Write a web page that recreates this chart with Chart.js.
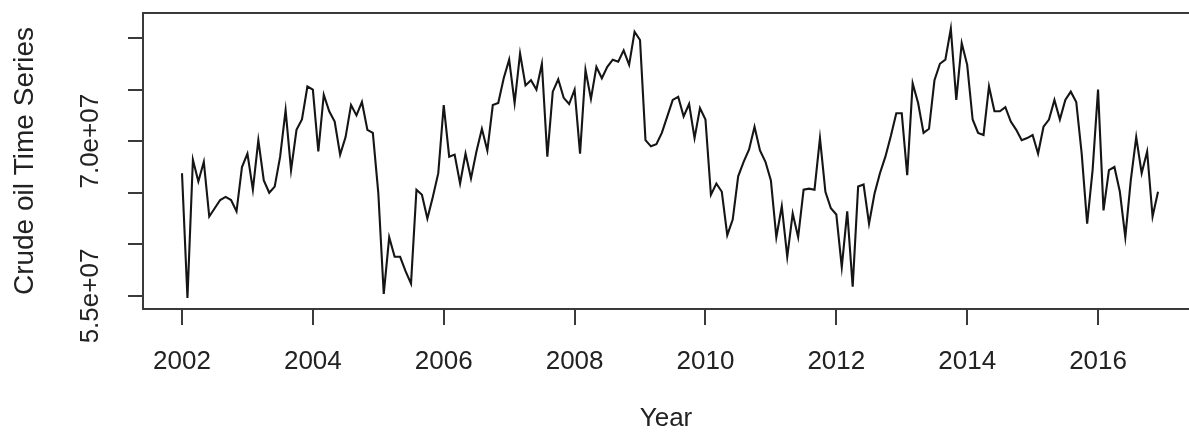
<!DOCTYPE html>
<html>
<head>
<meta charset="utf-8">
<title>Crude oil Time Series</title>
<script src="https://cdn.jsdelivr.net/npm/chart.js@4/dist/chart.umd.min.js"></script>
<style>
  html, body { margin: 0; padding: 0; background: #ffffff; overflow: hidden; }
  #wrap { width: 1189px; height: 438px; }
</style>
</head>
<body>
<div id="wrap"><canvas id="chart" width="1189" height="438"></canvas></div>
<script>
// Monthly crude oil series, Jan 2002 - Dec 2016 (values in millions)
const startYear = 2002;
const crudeOilMillions = [
  66.9, 54.8, 68.2, 66.1, 68.0, 62.7, 63.5, 64.3, 64.6, 64.3, 63.2, 67.5, // 2002
  68.8, 65.3, 70.1, 66.2, 65.0, 65.6, 68.5, 73.0, 67.2, 71.1, 72.1, 75.3, // 2003
  75.0, 69.0, 74.5, 72.9, 71.9, 68.7, 70.4, 73.5, 72.5, 73.8, 71.1, 70.8, // 2004
  65.0, 55.2, 60.7, 58.8, 58.8, 57.4, 56.2, 65.3, 64.8, 62.5, 64.6, 66.9, // 2005
  73.5, 68.5, 68.7, 65.9, 68.8, 66.4, 69.0, 71.2, 69.1, 73.5, 73.7, 76.1, // 2006
  77.9, 73.7, 78.5, 75.4, 75.9, 75.0, 77.5, 68.5, 74.8, 76.0, 74.2, 73.6, // 2007
  75.0, 68.8, 76.9, 74.1, 77.2, 76.1, 77.2, 77.9, 77.7, 78.8, 77.4, 80.6, // 2008
  79.8, 70.1, 69.5, 69.7, 70.8, 72.4, 74.0, 74.3, 72.4, 73.6, 70.3, 73.2, // 2009
  72.1, 64.8, 65.9, 65.1, 60.9, 62.4, 66.6, 68.0, 69.2, 71.4, 69.1, 68.0, // 2010
  66.2, 60.7, 63.7, 58.8, 63.0, 60.7, 65.3, 65.4, 65.3, 70.3, 65.1, 63.5, // 2011
  62.9, 57.8, 63.2, 55.9, 65.6, 65.8, 62.0, 64.9, 66.9, 68.5, 70.5, 72.7, // 2012
  72.7, 66.7, 75.6, 73.7, 70.8, 71.2, 75.9, 77.5, 77.9, 80.9, 74.0, 79.5, // 2013
  77.4, 72.1, 70.8, 70.6, 75.3, 72.9, 72.9, 73.3, 71.9, 71.1, 70.1, 70.3, // 2014
  70.6, 68.8, 71.4, 72.1, 74.0, 72.1, 74.0, 74.8, 73.8, 68.8, 62.0, 67.2, // 2015
  75.0, 63.3, 67.2, 67.5, 65.1, 60.7, 66.2, 70.4, 66.9, 69.0, 62.7, 65.1  // 2016
];

// Axis ticks
const xTickYears = [2002, 2004, 2006, 2008, 2010, 2012, 2014, 2016];
const yTickValues = [55e6, 60e6, 65e6, 70e6, 75e6, 80e6];
const yTickLabels = ['5.5e+07', '', '', '7.0e+07', '', ''];

// Plot ranges (R-style 4% extension around the data)
const xMin = 2001.404, xMax = 2017.39;
const yMin = 5.374e7, yMax = 8.242e7;

const points = crudeOilMillions.map((v, i) => ({ x: startYear + i / 12, y: v * 1e6 }));

const FONT = '"Liberation Sans", Arial, Helvetica, sans-serif';
const INK = '#222222';
const FRAME = '#3a3a3a';

new Chart(document.getElementById('chart'), {
  type: 'line',
  data: {
    datasets: [{
      data: points,
      borderColor: '#151515',
      borderWidth: 2.1,
      pointRadius: 0,
      tension: 0,
      fill: false
    }]
  },
  options: {
    responsive: false,
    animation: false,
    devicePixelRatio: 1,
    layout: { padding: 0 },
    plugins: { legend: { display: false }, tooltip: { enabled: false } },
    scales: {
      x: {
        type: 'linear',
        position: 'bottom',
        min: xMin,
        max: xMax,
        afterBuildTicks: s => { s.ticks = xTickYears.map(v => ({ value: v })); },
        afterFit: s => { s.height = 129; s.paddingLeft = 0; s.paddingRight = 0; },
        grid: { drawOnChartArea: false, drawTicks: true, tickLength: 16, color: FRAME, lineWidth: 2 },
        border: { display: true, color: FRAME, width: 2 },
        ticks: {
          color: INK, autoSkip: false, maxRotation: 0, padding: 21,
          font: { family: FONT, size: 26 },
          callback: v => String(v)
        },
        title: {
          display: true, text: 'Year', color: INK,
          font: { family: FONT, size: 26 },
          padding: { top: 0, bottom: 4 }
        }
      },
      xTop: {
        type: 'linear',
        position: 'top',
        min: xMin,
        max: xMax,
        ticks: { display: false },
        grid: { display: false, drawTicks: false },
        border: { display: true, color: FRAME, width: 2 },
        afterFit: s => { s.height = 13; s.paddingLeft = 0; s.paddingRight = 0; }
      },
      y: {
        position: 'left',
        min: yMin,
        max: yMax,
        afterBuildTicks: s => { s.ticks = yTickValues.map(v => ({ value: v })); },
        afterFit: s => { s.width = 143; s.paddingTop = 0; s.paddingBottom = 0; },
        grid: { drawOnChartArea: false, drawTicks: true, tickLength: 15, color: FRAME, lineWidth: 2 },
        border: { display: true, color: FRAME, width: 2 },
        ticks: {
          color: INK, autoSkip: false, minRotation: 90, maxRotation: 90,
          crossAlign: 'center', padding: -10,
          font: { family: FONT, size: 26 },
          callback: (v, i) => yTickLabels[i]
        },
        title: {
          display: true, text: 'Crude oil Time Series', color: INK,
          font: { family: FONT, size: 28 },
          padding: { top: 8, bottom: 0 }
        }
      }
    }
  }
});
</script>
</body>
</html>
